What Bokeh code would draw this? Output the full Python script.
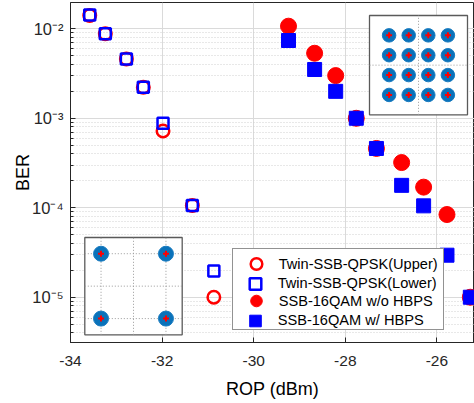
from bokeh.plotting import figure
from bokeh.models import Range1d, FixedTicker, LinearScale, Legend, LegendItem
from bokeh.embed import file_html
from bokeh.resources import INLINE

# ---- data ----
rop_twin = [-33.58, -33.24, -32.78, -32.41, -31.98, -31.34, -30.87]
ber_upper = [0.0141, 0.0088, 0.00461, 0.00222, 0.00072, 0.000106, 0.00001]
ber_lower = [0.0143, 0.0088, 0.00461, 0.00222, 0.00088, 0.000106, 0.0000196]

rop_16 = [-29.24, -28.67, -28.21, -27.76, -27.32, -26.77, -26.29, -25.78, -25.27]
ber_wo = [0.0107, 0.00533, 0.0030, 0.0010, 0.00046, 0.00032, 0.00017, 0.000084, 0.00001]
ber_w = [0.0074, 0.00351, 0.0020, 0.0010, 0.00046, 0.000178, 0.000105, 0.0000295, 0.00001]

series_names = ["Twin-SSB-QPSK(Upper)", "Twin-SSB-QPSK(Lower)",
                "SSB-16QAM w/o HBPS", "SSB-16QAM w/ HBPS"]

x_ticks = [-34, -32, -30, -28, -26]
y_ticks = [1e-5, 1e-4, 1e-3, 1e-2]
y_tick_labels = ["10\u207b\u2075", "10\u207b\u2074", "10\u207b\u00b3", "10\u207b\u00b2"]

qpsk_i = [-1, 1, -1, 1]
qpsk_q = [1, 1, -1, -1]
qam_levels = [-3, -1, 1, 3]
qam_i = [a for b in qam_levels for a in qam_levels]
qam_q = [b for b in qam_levels for a in qam_levels]
qpsk_grid = [-1, 0, 1]
qam_grid = [0]

# ---- layout ----
W, H = 474, 403
LB, TB, RB = 70, 2, 0
BB = H - 342
FW, FH = W - LB - RB, H - BB - TB

y_minor = [m * 10.0 ** e for e in range(-6, -1) for m in range(2, 10)]

p = figure(width=W, height=H, output_backend="svg", toolbar_location=None,
           y_axis_type="log",
           x_range=Range1d(-34, -34 + FW / 45.8),
           y_range=Range1d(10 ** -5.506, 10 ** -1.706),
           min_border_left=LB, min_border_bottom=BB, min_border_top=TB,
           min_border_right=RB)
p.background_fill_color = "white"
p.border_fill_color = "white"
p.outline_line_color = "#262626"
p.outline_line_width = 1


def inset_range(lo, hi, span, dmin, dmax):
    k = (dmax - dmin) / (hi - lo)
    return Range1d(dmin - lo * k, dmax + (span - hi) * k)


p.extra_x_ranges = {"qx": inset_range(14.3, 111.7, FW, -1.5, 1.5),
                    "mx": inset_range(299.0, 397.0, FW, -5, 5)}
p.extra_y_ranges = {"qy": inset_range(7.7, 105.0, FH, -1.5, 1.5),
                    "my": inset_range(227.7, 327.0, FH, -5, 5)}
p.extra_x_scales = {"qx": LinearScale(), "mx": LinearScale()}
p.extra_y_scales = {"qy": LinearScale(), "my": LinearScale()}

# axes
font = "Liberation Sans"
for ax in (p.xaxis[0], p.yaxis[0]):
    ax.axis_line_color = "#262626"
    ax.major_tick_line_color = "#262626"
    ax.minor_tick_line_color = "#262626"
    ax.major_tick_in = 5
    ax.major_tick_out = 0
    ax.minor_tick_in = 3
    ax.minor_tick_out = 0
    ax.major_label_text_font = font
    ax.major_label_text_color = "#262626"
    ax.axis_label_text_font = font
    ax.axis_label_text_font_size = "18px"
    ax.axis_label_text_font_style = "normal"
    ax.axis_label_text_color = "black"

p.xaxis.ticker = FixedTicker(ticks=x_ticks)
p.xaxis.minor_tick_line_color = None
p.xaxis.axis_label = "ROP (dBm)"
p.xaxis.major_label_text_font_size = "15.5px"
p.xaxis.major_label_standoff = 13
p.xaxis.axis_label_standoff = 10
p.xaxis.major_label_overrides = {t: str(t) for t in x_ticks}

p.yaxis.ticker = FixedTicker(ticks=y_ticks, minor_ticks=y_minor)
p.yaxis.major_label_overrides = dict(zip(y_ticks, y_tick_labels))
p.yaxis.major_label_text_font_size = "16.5px"
p.yaxis.axis_label = "BER"
p.yaxis.major_label_standoff = 7
try:
    p.yaxis.axis_label_standoff = -4
except ValueError:
    p.yaxis.axis_label_standoff = 0

# grids
p.xgrid.ticker = FixedTicker(ticks=x_ticks)
p.xgrid.grid_line_color = "#dadada"
p.ygrid.ticker = FixedTicker(ticks=y_ticks, minor_ticks=y_minor)
p.ygrid.grid_line_color = "#dadada"
p.ygrid.minor_grid_line_color = "#d0d0d0"
p.ygrid.minor_grid_line_dash = "1 2"

# ---- insets ----
def draw_inset(xr, yr, lo, hi, grid, pi, pq, blob):
    p.rect(x=[(lo + hi) / 2], y=[(lo + hi) / 2], width=[hi - lo], height=[hi - lo],
           x_range_name=xr, y_range_name=yr, fill_color="white",
           line_color="#5a5a5a", line_width=1.3)
    p.segment(x0=grid, x1=grid, y0=[lo] * len(grid), y1=[hi] * len(grid),
              x_range_name=xr, y_range_name=yr, line_color="#9a9a9a",
              line_dash="1 2", line_width=1)
    p.segment(x0=[lo] * len(grid), x1=[hi] * len(grid), y0=grid, y1=grid,
              x_range_name=xr, y_range_name=yr, line_color="#9a9a9a",
              line_dash="1 2", line_width=1)
    p.scatter(pi, pq, x_range_name=xr, y_range_name=yr, size=blob,
              fill_color="#0a72ba", line_color="#1a7cc0", line_width=1)
    p.scatter(pi, pq, x_range_name=xr, y_range_name=yr, marker="cross",
              size=6, line_color="red", line_width=2)


draw_inset("qx", "qy", -1.5, 1.5, qpsk_grid, qpsk_i, qpsk_q, 15)
draw_inset("mx", "my", -5, 5, qam_grid, qam_i, qam_q, 13.5)

# ---- data ----
r_up = p.scatter(rop_twin, ber_upper, marker="circle", size=12.5, fill_color=None,
                 line_color="red", line_width=2.5)
r_lo = p.scatter(rop_twin, ber_lower, marker="square", size=11, fill_color=None,
                 line_color="blue", line_width=2.5)
r_wo = p.scatter(rop_16, ber_wo, marker="circle", size=16, color="red")
r_w = p.scatter(rop_16, ber_w, marker="square", size=14, color="blue")

# legend: two interleaved legends so that the marker glyphs can be large
def make_legend(items, loc, boxed, pad_bottom):
    lg = Legend(items=items, location=loc)
    lg.label_text_font = font
    lg.label_text_font_size = "14.6px"
    lg.label_text_color = "black"
    lg.margin = 0
    lg.padding = dict(left=0, right=0, top=0, bottom=pad_bottom)
    lg.spacing = 8
    lg.glyph_height = 29
    lg.label_height = 29
    lg.glyph_width = 46
    lg.label_standoff = 0
    lg.label_width = 164
    if boxed:
        lg.border_line_color = "#262626"
        lg.border_line_width = 1
        lg.background_fill_color = "white"
        lg.background_fill_alpha = 1
    else:
        lg.border_line_color = None
        lg.background_fill_alpha = 0
    p.add_layout(lg)
    return lg


make_legend([LegendItem(label=series_names[0], renderers=[r_up]),
             LegendItem(label=series_names[2], renderers=[r_wo])],
            (161.7, 11.7), True, 14)
make_legend([LegendItem(label=series_names[1], renderers=[r_lo]),
             LegendItem(label=series_names[3], renderers=[r_w])],
            (161.7, 7.2), False, 0)

open("out.html", "w").write(file_html(p, INLINE))
